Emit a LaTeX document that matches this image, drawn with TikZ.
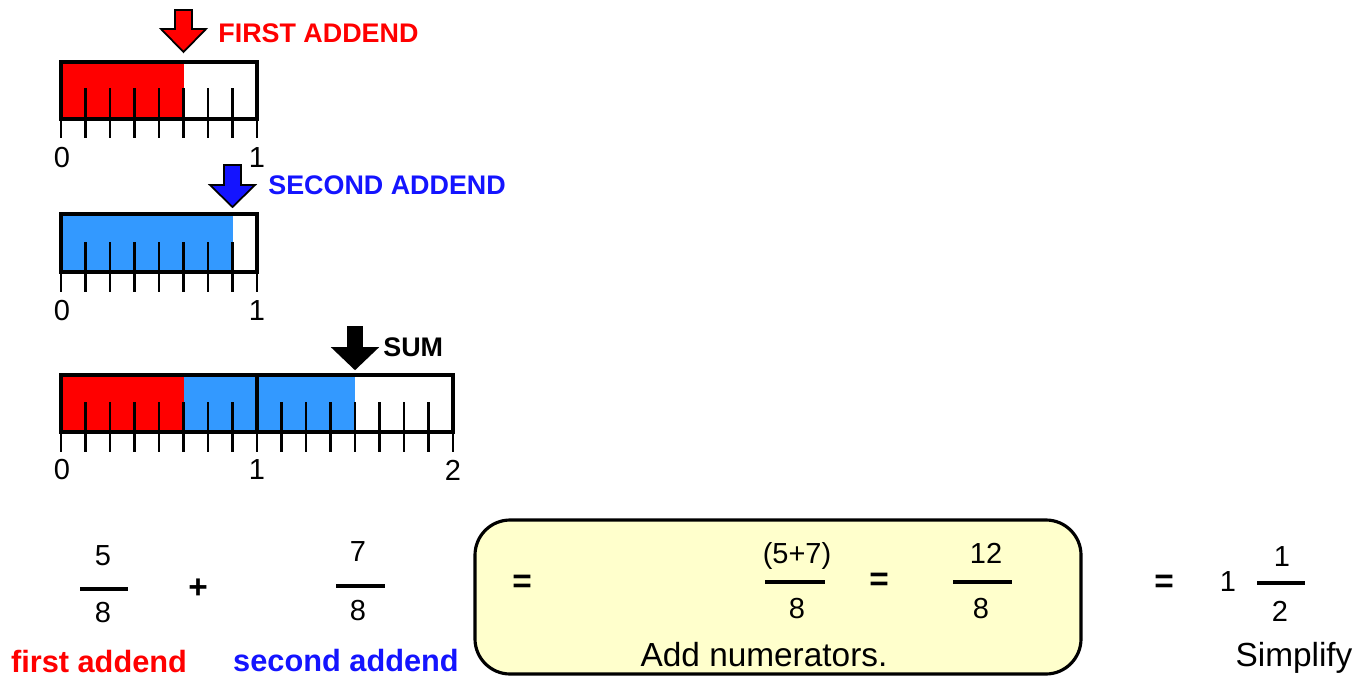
\documentclass[tikz,border=0pt]{standalone}
\usepackage{fontspec}
\setmainfont{Liberation Sans}
\definecolor{addred}{RGB}{255,0,0}
\definecolor{addblue}{RGB}{51,153,255}
\definecolor{lblblue}{RGB}{20,20,255}
\definecolor{boxfill}{RGB}{255,255,204}
\begin{document}
\begin{tikzpicture}[x=0.02cm,y=-0.02cm,
  barframe/.style={draw=black,line width=1.8pt},
  tick/.style={line width=1.3pt},
  fracbar/.style={line width=2.5pt},
  numtxt/.style={font=\fontsize{16.5}{16.5}\selectfont,inner sep=0pt},
  eqsign/.style={font=\bfseries\fontsize{19}{19}\selectfont,inner sep=0pt},
  wordtxt/.style={font=\fontsize{19}{19}\selectfont,inner sep=0pt},
  boldlbl/.style={font=\bfseries\fontsize{17.5}{17.5}\selectfont,inner sep=0pt},
  caplbl/.style={font=\bfseries\fontsize{15.3}{15.3}\selectfont,inner sep=0pt,anchor=west},
  pointer/.style={draw=black,line width=1pt,line join=miter}]
\useasboundingbox (0,0) rectangle (1358,676);

% ---------- first addend: 5/8 ----------
\fill[addred] (61,62) rectangle (183.5,119);
\foreach \i in {1,...,7} \draw[tick] ({61+24.5*\i},88) -- ({61+24.5*\i},138);
\foreach \i in {0,8} \draw[tick] ({61+24.5*\i},119) -- ({61+24.5*\i},138);
\draw[barframe] (61,62) rectangle (257,119);
\node[numtxt] (a0) at (62,158) {0};
\node[numtxt] (a1) at (257,158) {1};
\draw[pointer,fill=addred] (175,10) -- (192,10) -- (192,29) -- (206,29) -- (183.5,52)
  -- (161,29) -- (175,29) -- cycle;
\node[caplbl,text=addred] (lblfirst) at (218,33) {FIRST ADDEND};

% ---------- second addend: 7/8 ----------
\fill[addblue] (61,214) rectangle (232.5,272);
\foreach \i in {1,...,7} \draw[tick] ({61+24.5*\i},242) -- ({61+24.5*\i},292);
\foreach \i in {0,8} \draw[tick] ({61+24.5*\i},272) -- ({61+24.5*\i},292);
\draw[barframe] (61,214) rectangle (257,272);
\node[numtxt] (b0) at (62,311) {0};
\node[numtxt] (b1) at (257,311) {1};
\draw[pointer,fill=lblblue] (224,165) -- (241,165) -- (241,185) -- (255,185) -- (232.5,207)
  -- (210,185) -- (224,185) -- cycle;
\node[caplbl,text=lblblue] (lblsecond) at (268,185) {SECOND ADDEND};

% ---------- sum: 12/8 on a 0..2 line ----------
\fill[addred] (61,375) rectangle (183.5,432);
\fill[addblue] (183.5,375) rectangle (355,432);
\foreach \i in {1,...,15} \draw[tick] ({61+24.5*\i},402) -- ({61+24.5*\i},452);
\foreach \i in {0,16} \draw[tick] ({61+24.5*\i},432) -- ({61+24.5*\i},452);
\draw[barframe] (257,375) -- (257,432);
\draw[barframe] (61,375) rectangle (453,432);
\node[numtxt] (c0) at (62,470) {0};
\node[numtxt] (c1) at (257,470) {1};
\node[numtxt] (c2) at (453,470) {2};
\draw[pointer,fill=black] (348,327) -- (362,327) -- (362,348) -- (377,348) -- (355,369)
  -- (333,348) -- (348,348) -- cycle;
\node[caplbl,text=black] (lblsum) at (383,347) {SUM};

% ---------- equation row ----------
\node[numtxt] (n1) at (103,556) {5};
\node[numtxt] (d1) at (103,613) {8};
\draw[fracbar] (80,589) -- (128,589);
\node[eqsign] (plus) at (198,589) {+};
\node[numtxt] (n2) at (358,552) {7};
\node[numtxt] (d2) at (358,611) {8};
\draw[fracbar] (336,586) -- (385,586);
\node[boldlbl,text=addred] (w1) at (99,661) {first addend};
\node[boldlbl,text=lblblue] (w2) at (346,660) {second addend};

\draw[line width=1.8pt,fill=boxfill,rounded corners=20] (475,520) rectangle (1081,674);
\node[eqsign] (eq1) at (522,584) {=};
\node[numtxt] (n3) at (797,556) {(5+7)};
\node[numtxt] (d3) at (797,609) {8};
\draw[fracbar] (765,582) -- (825,582);
\node[eqsign] (eq2) at (879,582) {=};
\node[numtxt] (n4) at (986,553) {12};
\node[numtxt] (d4) at (981,609) {8};
\draw[fracbar] (953,582) -- (1012,582);
\node[wordtxt] (w3) at (764,655) {Add numerators.};

\node[eqsign] (eq3) at (1164,584) {=};
\node[numtxt] (whole) at (1228,582) {1};
\node[numtxt] (n5) at (1282,557) {1};
\node[numtxt] (d5) at (1280,611) {2};
\draw[fracbar] (1257,583) -- (1305,583);
\node[wordtxt] (w4) at (1294,658) {Simplify};
\end{tikzpicture}
\end{document}
